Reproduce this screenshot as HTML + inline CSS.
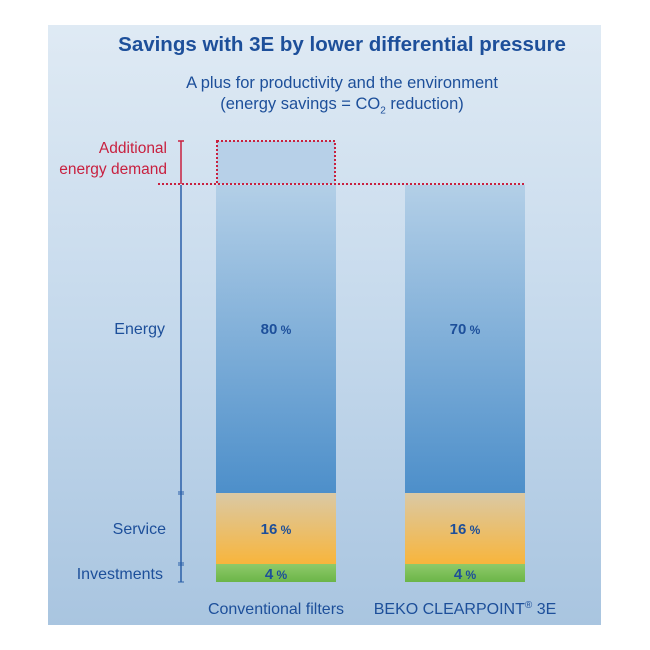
<html><head><style>
body{margin:0;width:650px;height:650px;background:#fff;font-family:"Liberation Sans",sans-serif;}
.p{position:absolute;left:48px;top:25px;width:553px;height:600px;background:linear-gradient(#dfeaf4,#c5d9ec 50%,#a9c5e0);}
.t{position:absolute;white-space:nowrap;}
</style></head><body>
<div class="p"></div>
<div class="t" style="width:650px;text-align:center;top:33px;left:17px;font-size:20.5px;font-weight:bold;color:#1d4f9a">Savings with 3E by lower differential pressure</div>
<div class="t" style="left:17px;width:650px;text-align:center;top:73px;font-size:16.5px;color:#1d4f9a;line-height:21px">A plus for productivity and the environment<br>(energy savings = CO<sub style="font-size:10px">2</sub> reduction)</div>
<div class="t" style="right:483px;top:138px;text-align:right;font-size:15.5px;color:#c8203f;line-height:21px">Additional<br>energy demand</div>
<svg style="position:absolute;left:0;top:0" width="650" height="650">
<defs><linearGradient id="e" x1="0" y1="0" x2="0" y2="1"><stop offset="0" stop-color="#b3cfe7"/><stop offset="1" stop-color="#4d8fca"/></linearGradient>
<linearGradient id="s" x1="0" y1="0" x2="0" y2="1"><stop offset="0" stop-color="#dac9a5"/><stop offset="1" stop-color="#f8b53c"/></linearGradient>
<linearGradient id="g" x1="0" y1="0" x2="0" y2="1"><stop offset="0" stop-color="#8fca6a"/><stop offset="1" stop-color="#6bb548"/></linearGradient></defs>
<rect x="217" y="141" width="118" height="43" fill="#b7d0e8"/>
<rect x="217" y="141" width="118" height="43" fill="none" stroke="#c8203f" stroke-width="2" stroke-dasharray="2,2"/>
<line x1="158" y1="184" x2="525" y2="184" stroke="#c8203f" stroke-width="2" stroke-dasharray="2,2"/>
<line x1="181" y1="141" x2="181" y2="184" stroke="#c8203f" stroke-width="1.5"/><line x1="178" y1="141" x2="184" y2="141" stroke="#c8203f" stroke-width="1.5"/>
<line x1="181" y1="185" x2="181" y2="582" stroke="#2a5fa8" stroke-width="1.5"/>
<line x1="178" y1="492" x2="184" y2="492" stroke="#2a5fa8"/><line x1="178" y1="494" x2="184" y2="494" stroke="#2a5fa8"/>
<line x1="178" y1="563" x2="184" y2="563" stroke="#2a5fa8"/><line x1="178" y1="565" x2="184" y2="565" stroke="#2a5fa8"/>
<line x1="178" y1="582" x2="184" y2="582" stroke="#2a5fa8"/>
<g><rect x="216" y="185" width="120" height="308" fill="url(#e)"/><rect x="216" y="493" width="120" height="71" fill="url(#s)"/><rect x="216" y="564" width="120" height="18" fill="url(#g)"/></g>
<g><rect x="405" y="185" width="120" height="308" fill="url(#e)"/><rect x="405" y="493" width="120" height="71" fill="url(#s)"/><rect x="405" y="564" width="120" height="18" fill="url(#g)"/></g>
<g font-family="Liberation Sans" font-weight="bold" font-size="15" fill="#1d4f9a" text-anchor="middle">
<text x="276" y="334">80<tspan font-size="12"> %</tspan></text><text x="465" y="334">70<tspan font-size="12"> %</tspan></text>
<text x="276" y="534">16<tspan font-size="12"> %</tspan></text><text x="465" y="534">16<tspan font-size="12"> %</tspan></text>
<text x="276" y="579">4<tspan font-size="12"> %</tspan></text><text x="465" y="579">4<tspan font-size="12"> %</tspan></text>
</g>
<g font-family="Liberation Sans" font-size="16" fill="#1d4f9a">
<text x="165" y="334" text-anchor="end">Energy</text>
<text x="166" y="534" text-anchor="end">Service</text>
<text x="163" y="579" text-anchor="end">Investments</text>
<text x="276" y="614" text-anchor="middle">Conventional filters</text>
<text x="465" y="614" text-anchor="middle">BEKO CLEARPOINT<tspan font-size="10" dy="-6">®</tspan><tspan dy="6"> 3E</tspan></text>
</g></svg>
</body></html>
